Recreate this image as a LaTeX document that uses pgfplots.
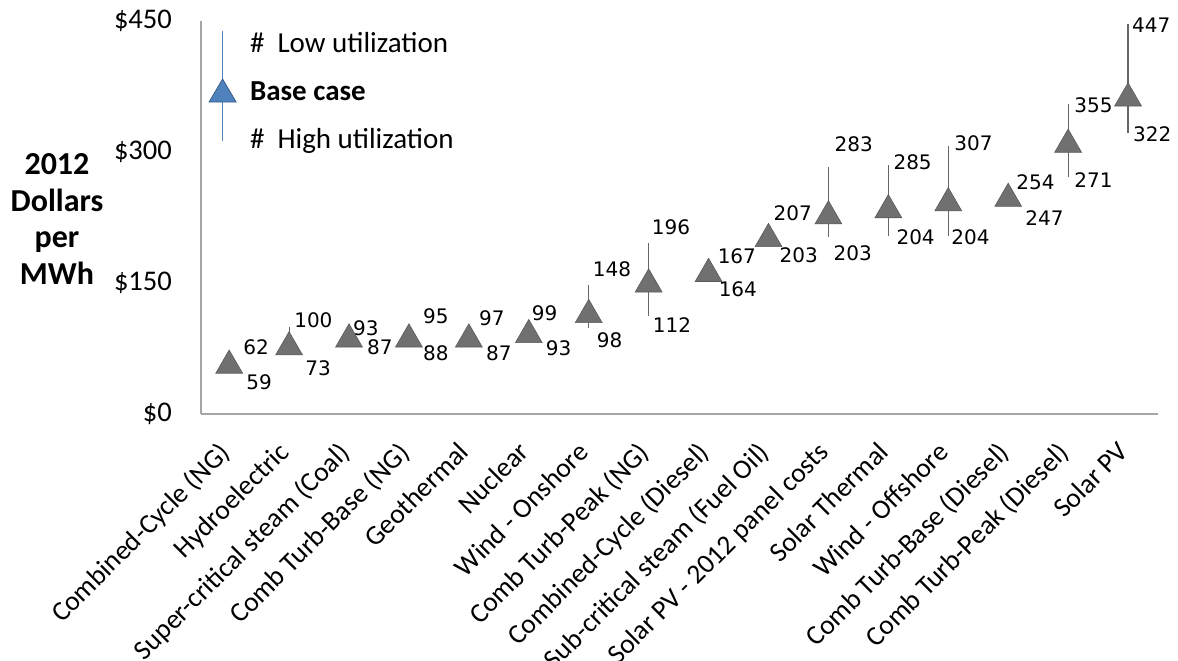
\documentclass[border=0pt]{standalone}
\usepackage{pgfplots}
\usepackage{pgfplotstable}
\pgfplotsset{compat=1.18}
\usepackage{fontspec}
\setmainfont{Carlito}
\newfontfamily\valfont{DejaVu Sans}

\definecolor{markGray}{HTML}{707070}
\definecolor{markEdge}{HTML}{5A5A5A}
\definecolor{rangeGray}{HTML}{666666}
\definecolor{axisGray}{HTML}{A6A6A6}
\definecolor{keyBlue}{HTML}{4F81BD}
\definecolor{keyEdge}{HTML}{385D8A}

% Levelized cost, 2012 $/MWh: base case, high-utilization (lo) and
% low-utilization (hi) costs; hdx/hdy, ldx/ldy place the value labels (bp)
\pgfplotstableread{
x  base lo  hi  hdx hdy   ldx ldy
0  60   59  62  14  12.9  17  -19.5
1  81   73  100 5   6.7   16  -17.8
2  90   87  93  4   4.8   18  -9
3  90   88  95  14  15    14  -15.9
4  90   87  97  10  11.3  17  -15
5  95   93  99  3   14.5  17  -15.2
6  118  98  148 4   15.7  8   -11.6
7  153  112 196 3   15.8  4   -8.8
8  165  164 167 9   12.2  10  -18.2
9  205  203 207 5   20.2  11  -18.3
10 231  203 283 6   22.9  5   -16.3
11 238  204 285 5   3.1   8   -1.2
12 246  204 307 6   2.9   3   -1.2
13 251  247 254 8   10.2  17  -19.7
14 313  271 355 6   -1    6   -2.7
15 366  322 447 4   -1.4  5   -1.2
}\lcoe

\begin{document}
\begin{tikzpicture}
\begin{axis}[
  at={(201bp,247bp)}, anchor=south west,
  scale only axis, width=957bp, height=393bp,
  xmin=-0.47, xmax=15.5, ymin=0, ymax=450,
  clip=false,
  axis lines=left,
  axis line style={draw=axisGray, line width=1.3bp, -},
  major tick length=0pt,
  ytick={0,150,300,450},
  yticklabels={\$0,\$150,\$300,\$450},
  yticklabel style={font=\fontsize{28.5bp}{34bp}\selectfont, anchor=east, inner sep=0pt, xshift=-29bp},
  % rotated category names end just right of each category
  xtick={-0.25,0.75,...,14.75},
  xticklabels={Combined-Cycle (NG), Hydroelectric, Super-critical steam (Coal),
    Comb Turb-Base (NG), Geothermal, Nuclear, Wind - Onshore, Comb Turb-Peak (NG),
    Combined-Cycle (Diesel), Sub-critical steam (Fuel Oil), Solar PV - 2012 panel costs,
    Solar Thermal, Wind - Offshore, Comb Turb-Base (Diesel), Comb Turb-Peak (Diesel), Solar PV},
  xticklabel style={font=\fontsize{27.5bp}{33bp}\selectfont, rotate=45, anchor=north east,
    inner sep=0pt, xshift=-16.3bp, yshift=-20.5bp},
  ylabel={2012\\Dollars\\per\\MWh},
  ylabel style={rotate=-90, align=center, font=\fontsize{32bp}{36.7bp}\selectfont\bfseries,
    anchor=center, at={(axis description cs:-0.1505,0.496)}},
  legend cell align=left,
  legend style={at={(axis description cs:0.00784,0.8346)}, anchor=west,
    draw=none, fill=none, inner sep=0pt, column sep=13.5bp, nodes={inner sep=0pt}},
]
% legend key: range line with the base-case triangle
\addlegendimage{legend image code/.code={
  \draw[keyBlue, line width=1.3bp] (0bp,-50bp) -- (0bp,60bp);
  \filldraw[fill=keyBlue, draw=keyEdge, line width=0.8bp]
    (-13.5bp,-11bp) -- (13.5bp,-11bp) -- (0bp,12bp) -- cycle;
}}
\addlegendentry{\raisebox{37.7bp}[0pt][0pt]{\fontsize{29bp}{48bp}\selectfont
  \begin{tabular}[t]{@{}l@{}}\#\ \ Low utilization\\ \textbf{Base case}\\ \#\ \ High utilization\end{tabular}}}

% utilization range
\addplot[draw=none, mark=none, forget plot,
  error bars/.cd, y dir=plus, y explicit, error mark=none,
  error bar style={draw=rangeGray, line width=1.1bp}]
  table[x=x, y=lo, y error expr=\thisrow{hi}-\thisrow{lo}] {\lcoe};

% base case
\addplot[only marks, mark=triangle*, mark size=15.5bp, forget plot,
  mark options={fill=markGray, draw=markEdge, line width=0.6bp, yshift=-3.9bp}]
  table[x=x, y=base] {\lcoe};

% low-utilization values
\addplot[draw=none, mark=none, forget plot,
  point meta=explicit symbolic,
  visualization depends on={\thisrow{hdx}\as\hdx},
  visualization depends on={\thisrow{hdy}\as\hdy},
  nodes near coords,
  nodes near coords style={font=\valfont\fontsize{20bp}{24bp}\selectfont, anchor=west,
    inner sep=0pt, text=black, xshift={\hdx*1bp}, yshift={\hdy*1bp}}]
  table[x=x, y=hi, meta=hi] {\lcoe};

% high-utilization values
\addplot[draw=none, mark=none, forget plot,
  point meta=explicit symbolic,
  visualization depends on={\thisrow{ldx}\as\ldx},
  visualization depends on={\thisrow{ldy}\as\ldy},
  nodes near coords,
  nodes near coords style={font=\valfont\fontsize{20bp}{24bp}\selectfont, anchor=west,
    inner sep=0pt, text=black, xshift={\ldx*1bp}, yshift={\ldy*1bp}}]
  table[x=x, y=lo, meta=lo] {\lcoe};
\end{axis}
\pgfresetboundingbox
\path[use as bounding box] (0,0) rectangle (1178bp,661bp);
\end{tikzpicture}
\end{document}
